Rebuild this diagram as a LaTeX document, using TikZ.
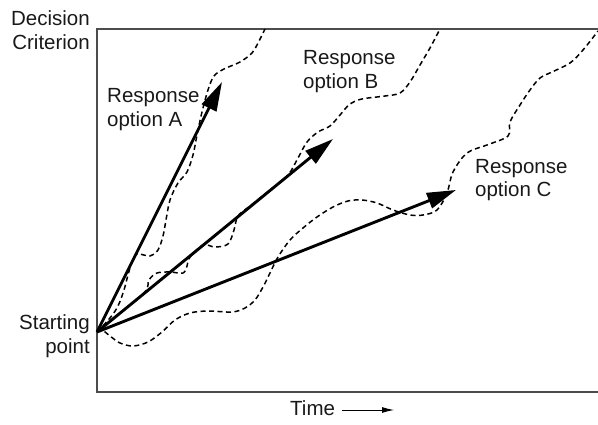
\documentclass[tikz,border=0pt]{standalone}
\usepackage{fontspec}
\setmainfont{Liberation Sans}
\usetikzlibrary{arrows.meta}
\tikzset{
  axisline/.style={draw=black!70, line width=1.3pt},
  choice/.style={line width=2.9pt, -{Triangle[length=29pt,width=16pt]}},
  walk/.style={line width=1.5pt, dash pattern=on 5pt off 3.5pt, smooth, tension=0.55},
  lbl/.style={inner sep=0pt, text=black!90, font=\fontsize{20.5}{24}\selectfont},
}
\begin{document}
\begin{tikzpicture}[x=1pt,y=-1pt]
\useasboundingbox (0,0) rectangle (598,425);

\node [] (0) at (97, 332) {};
\node [] (1) at (222, 82) {};
\node [] (2) at (333, 139) {};
\node [] (3) at (456, 190) {};
\node [] (4) at (97, 29) {};
\node [] (5) at (598, 29) {};
\node [] (6) at (97, 392) {};
\node [] (7) at (598, 392) {};
\node [] (8) at (342, 410) {};
\node [] (9) at (394, 410) {};

\draw [axisline] (5.center) -- (4.center) -- (6.center) -- (7.center);

\draw [walk] plot coordinates {(97,332) (110,318) (118,306) (124,290) (128,275) (132,262) (137,254) (150,256) (158,250) (163,236) (166,220) (170,200) (178,183) (187,172) (193,155) (197,135) (202,112) (208,90) (214,76) (224,69) (240,62) (252,53) (258,43) (265,29)};
\draw [walk] plot coordinates {(97,332) (120,313) (145,292) (149,280) (157,273) (170,272) (183,273) (187,266) (190,257) (203,245) (215,247) (228,244) (234,230) (238,216) (250,206) (270,190) (288,175) (298,158) (307,142) (318,132) (330,126) (340,115) (350,104) (362,99) (385,96) (400,93) (410,82) (420,65) (430,48) (440,29)};
\draw [walk] plot coordinates {(97,332) (102,330) (110,336) (120,343) (133,346) (148,342) (162,332) (175,320) (190,313) (208,311) (232,312) (245,308) (255,300) (263,287) (270,273) (278,257) (290,240) (303,228) (317,217) (333,207) (348,201) (362,200) (377,203) (393,210) (410,215) (423,215) (437,210) (447,193) (453,172) (467,153) (487,145) (508,136) (510,122) (520,105) (530,90) (540,78) (552,72) (570,63) (583,50) (598,31)};

\draw [choice] (0.center) to (1.center);
\draw [choice] (0.center) to (2.center);
\draw [choice] (0.center) to (3.center);

\draw [line width=0.9pt, -{Latex[length=12pt,width=6pt]}] (8.center) to (9.center);

\node [lbl, anchor=base east, align=right] (crit) at (90, 50) {Decision\\Criterion};
\node [lbl, anchor=base east, align=right] (start) at (90, 353) {Starting\\point};
\node [lbl, anchor=base west, align=left] (optA) at (107, 127) {Response\\option A};
\node [lbl, anchor=base west, align=left] (optB) at (303, 89) {Response\\option B};
\node [lbl, anchor=base west, align=left] (optC) at (475, 197) {Response\\option C};
\node [lbl, anchor=base west] (time) at (290, 415) {Time};
\end{tikzpicture}
\end{document}
